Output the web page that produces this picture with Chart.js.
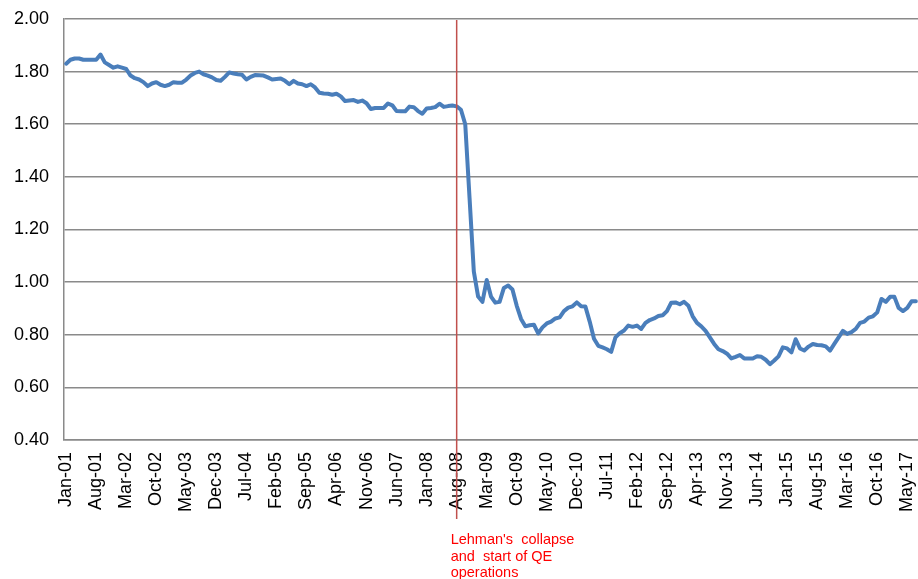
<!DOCTYPE html>
<html>
<head>
<meta charset="utf-8">
<script src="https://cdn.jsdelivr.net/npm/chart.js@4"></script>
<style>
  html, body { margin: 0; padding: 0; background: #fff; overflow: hidden; }
  #wrap { width: 918px; height: 579px; position: relative; }
</style>
</head>
<body>
<div id="wrap"><canvas id="chart"></canvas></div>
<script>
// monthly series, Jan-01 .. Jul-17
var monthNames = ["Jan", "Feb", "Mar", "Apr", "May", "Jun", "Jul", "Aug", "Sep", "Oct", "Nov", "Dec"];
var firstYear = 2001;
var labelEvery = 7;
var eventIndex = 91; // Aug-08
var eventText = ["Lehman's  collapse", "and  start of QE", "operations"];

var rates = [
    1.83, 1.845, 1.85, 1.85, 1.845, 1.845, 1.845, 1.845, 1.865, 1.835, 1.825, 1.815,
    1.82, 1.815, 1.81, 1.785, 1.775, 1.77, 1.76, 1.745, 1.755, 1.76, 1.75, 1.745,
    1.75, 1.76, 1.758, 1.758, 1.77, 1.785, 1.795, 1.80, 1.79, 1.785, 1.778, 1.768,
    1.765, 1.78, 1.797, 1.793, 1.79, 1.788, 1.77, 1.78, 1.787, 1.786, 1.785, 1.778,
    1.77, 1.772, 1.774, 1.765, 1.752, 1.765, 1.755, 1.752, 1.745, 1.752, 1.74, 1.72,
    1.717, 1.716, 1.712, 1.716, 1.706, 1.688, 1.69, 1.692, 1.685, 1.69, 1.68, 1.658,
    1.662, 1.662, 1.662, 1.679, 1.672, 1.65, 1.649, 1.649, 1.667, 1.665, 1.65, 1.64,
    1.66, 1.662, 1.665, 1.678, 1.666, 1.669, 1.671, 1.668, 1.655, 1.60, 1.32, 1.04,
    0.945, 0.925, 1.008, 0.945, 0.922, 0.925, 0.978, 0.987, 0.972, 0.91, 0.86, 0.832,
    0.836, 0.838, 0.805, 0.828, 0.843, 0.85, 0.862, 0.866, 0.89, 0.903, 0.908, 0.923,
    0.908, 0.907, 0.85, 0.785, 0.758, 0.752, 0.745, 0.735, 0.79, 0.806, 0.816, 0.835,
    0.83, 0.835, 0.822, 0.845, 0.856, 0.862, 0.871, 0.874, 0.89, 0.922, 0.923, 0.916,
    0.925, 0.91, 0.87, 0.845, 0.832, 0.815, 0.79, 0.765, 0.745, 0.738, 0.728, 0.71,
    0.716, 0.723, 0.71, 0.71, 0.71, 0.718, 0.716, 0.705, 0.688, 0.702, 0.718, 0.752,
    0.748, 0.733, 0.783, 0.748, 0.74, 0.755, 0.765, 0.761, 0.76, 0.756, 0.74, 0.765,
    0.79, 0.815, 0.803, 0.81, 0.822, 0.845, 0.85, 0.865, 0.87, 0.885, 0.936, 0.925,
    0.944, 0.944, 0.902, 0.89, 0.902, 0.927, 0.927
];

var months = [];
for (var i = 0; i < rates.length; i++) {
    var yy = (firstYear + Math.floor(i / 12)) % 100;
    months.push(monthNames[i % 12] + "-" + (yy < 10 ? "0" + yy : "" + yy));
}

var font = { family: "'Liberation Sans', Arial, sans-serif", size: 18 };
var gridGray = "#8a8a8a";

// red marker line with its note under the axis
var eventMarker = {
    id: "eventMarker",
    afterDraw: function (chart) {
        var ctx = chart.ctx;
        var x = chart.scales.x.getPixelForValue(eventIndex);
        ctx.save();
        ctx.strokeStyle = "#c0504d";
        ctx.lineWidth = 1.5;
        ctx.beginPath();
        ctx.moveTo(x, chart.chartArea.top + 1);
        ctx.lineTo(x, 519);
        ctx.stroke();
        ctx.fillStyle = "#ff0000";
        ctx.font = "14.5px 'Liberation Sans', Arial, sans-serif";
        ctx.textAlign = "left";
        ctx.textBaseline = "top";
        for (var k = 0; k < eventText.length; k++) {
            ctx.fillText(eventText[k], x - 6, 533 + k * 16.5);
        }
        ctx.restore();
    }
};

var lineChart = new Chart(document.getElementById("chart"), {
    type: "line",
    data: {
        labels: months,
        datasets: [
            {
                data: rates,
                borderColor: "#4a7ebb",
                borderWidth: 4,
                pointRadius: 0,
                tension: 0,
                borderJoinStyle: "round",
                borderCapStyle: "round"
            }
        ]
    },
    options: {
        responsive: true,
        maintainAspectRatio: false,
        animation: false,
        layout: { padding: { top: 19, left: 0, right: 0, bottom: 0 } },
        plugins: {
            legend: { display: false },
            tooltip: { enabled: false }
        },
        scales: {
            x: {
                type: "category",
                offset: true,
                grid: { display: false, drawTicks: false },
                border: { display: true, color: gridGray, width: 1.5 },
                ticks: {
                    autoSkip: false,
                    minRotation: 90,
                    maxRotation: 90,
                    padding: 12,
                    color: "#000",
                    font: font,
                    callback: function (value, index) {
                        return index % labelEvery === 0 ? this.getLabelForValue(value) : null;
                    }
                },
                afterFit: function (scale) {
                    scale.height = 139;
                    scale.paddingLeft = 0;
                    scale.paddingRight = 0;
                }
            },
            y: {
                min: 0.4,
                max: 2.0,
                grid: { color: gridGray, lineWidth: 1.5, drawTicks: false },
                border: { display: true, color: gridGray, width: 1.5 },
                ticks: {
                    stepSize: 0.2,
                    padding: 15,
                    color: "#000",
                    font: font,
                    callback: function (value) { return value.toFixed(2); }
                },
                afterFit: function (scale) {
                    scale.width = 64;
                    scale.paddingTop = 0;
                    scale.paddingBottom = 0;
                }
            }
        }
    },
    plugins: [eventMarker]
});
</script>
</body>
</html>
